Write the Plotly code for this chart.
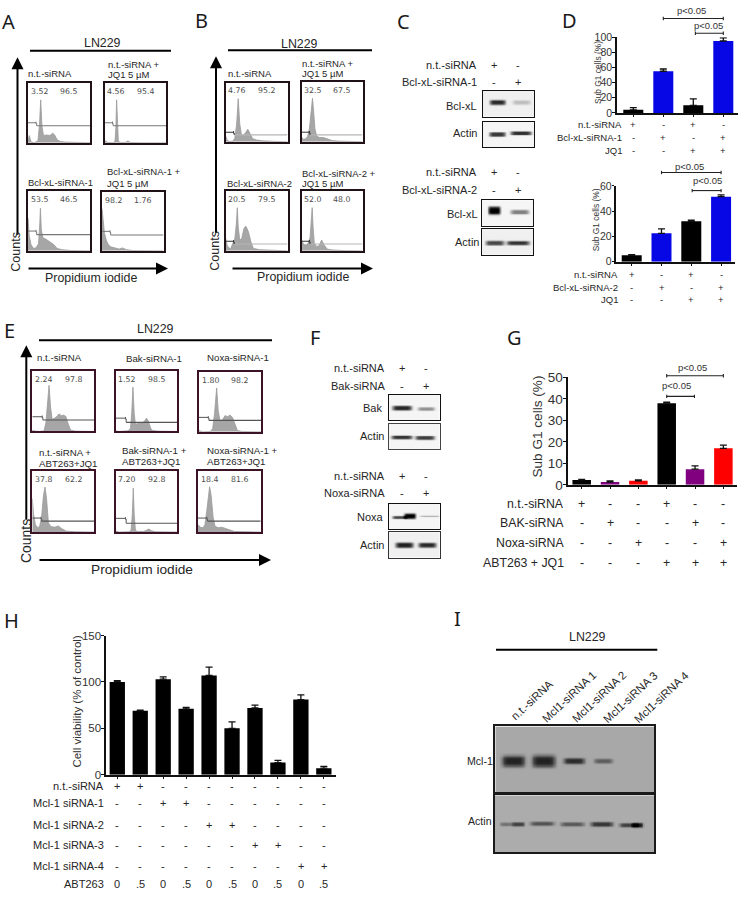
import numpy as np
import plotly.graph_objects as go

W, H = 738, 897
TXT = "#262626"
SANS = "Liberation Sans"

# ---------- flow histograms: x, counts (fractions of the panel) ----------
A1_x = [0,.02,.05,.1,.16,.185,.205,.225,.25,.3,.35,.4,.43,.47,.52,.6,.8,1]
A1_y = [.02,.12,.01,0,.03,.3,.72,.28,.12,.13,.12,.16,.13,.05,.02,.01,.005,0]
A2_x = [0,.02,.05,.14,.17,.185,.197,.21,.225,.26,.34,.38,.42,.6,1]
A2_y = [.01,.03,.005,0,.02,.25,.72,.25,.02,.005,.005,.03,.005,0,0]
A3_x = [0,.02,.05,.09,.13,.17,.19,.2,.215,.24,.28,.33,.38,.42,.47,.55,.7,1]
A3_y = [.55,.25,.1,.04,.05,.12,.45,.71,.35,.22,.2,.17,.13,.1,.04,.02,.005,0]
A4_x = [0,.02,.04,.07,.1,.14,.2,.28,.33,.4,.5,1]
A4_y = [.72,.5,.3,.18,.11,.07,.05,.03,.05,.02,.005,0]
B1_x = [0,.03,.07,.12,.15,.18,.205,.23,.26,.3,.36,.4,.44,.5,.6,.8,1]
B1_y = [.1,.02,.005,.01,.06,.3,.73,.3,.1,.12,.21,.14,.05,.03,.015,.005,0]
B2_x = [0,.03,.07,.1,.13,.155,.18,.2,.22,.25,.3,.36,.42,.5,.6,1]
B2_y = [.08,.04,.05,.09,.22,.45,.73,.5,.22,.09,.07,.07,.05,.02,.01,0]
B3_x = [0,.03,.08,.12,.15,.175,.19,.205,.23,.26,.3,.33,.37,.41,.45,.55,.7,.75,1]
B3_y = [.22,.08,.03,.12,.2,.45,.72,.4,.18,.2,.38,.41,.32,.15,.04,.02,.015,.02,0]
B4_x = [0,.04,.08,.11,.14,.16,.175,.19,.21,.25,.29,.33,.37,.42,.5,.7,1]
B4_y = [.18,.1,.1,.13,.22,.45,.72,.4,.13,.07,.09,.18,.1,.03,.015,.005,0]
E1_x = [0,.05,.12,.19,.22,.245,.27,.295,.32,.36,.4,.43,.47,.5,.54,.58,.62,.7,1]
E1_y = [.02,.005,0,.01,.15,.5,.76,.4,.2,.22,.25,.29,.26,.27,.25,.12,.02,.005,0]
E2_x = [0,.05,.2,.24,.26,.28,.3,.32,.36,.42,.46,.5,.53,.57,.6,.7,1]
E2_y = [.01,0,.01,.05,.3,.73,.3,.12,.13,.14,.16,.22,.17,.05,.015,.005,0]
E3_x = [0,.06,.18,.22,.25,.285,.31,.34,.38,.42,.46,.5,.54,.58,.62,.7,1]
E3_y = [.02,0,.005,.05,.3,.73,.35,.18,.2,.27,.25,.28,.24,.12,.02,.005,0]
E4_x = [0,.02,.05,.09,.12,.15,.18,.205,.23,.26,.3,.36,.42,.47,.55,.7,1]
E4_y = [.55,.3,.12,.07,.1,.25,.6,.74,.55,.15,.09,.08,.1,.06,.015,.005,0]
E5_x = [0,.05,.22,.25,.27,.285,.3,.32,.35,.45,.5,.54,.58,.65,1]
E5_y = [.02,0,.005,.03,.3,.72,.3,.03,.01,.01,.03,.05,.02,.005,0]
E6_x = [0,.04,.08,.11,.14,.17,.185,.21,.24,.27,.32,.38,.44,.5,.58,1]
E6_y = [.12,.08,.07,.12,.35,.68,.745,.6,.25,.1,.07,.08,.06,.03,.01,0]

# ---------- bar values ----------
D1_vals = [4, 55, 10, 95];  D1_err = [3, 3, 8.5, 4]
D2_vals = [5, 22.5, 32, 51.5];  D2_err = [0.5, 3.5, 1, 1.5]
G_vals = [2.3, 1.3, 1.9, 38, 7.3, 17];  G_err = [.3, .5, .4, .5, 1.5, 1.5]
H_vals = [100, 69, 103, 71, 107, 50, 72, 13, 81, 7]
H_err = [1.5, .5, 2.5, 1.5, 9, 7, 3, 2.5, 5, 2]

BLUE, PURPLE, RED = "#0707e6", "#800080", "#ff0000"
D_colors = ["#000000", BLUE, "#000000", BLUE]
G_colors = ["#000000", PURPLE, RED, "#000000", PURPLE, RED]

D1_rows = [("n.t.-siRNA", "+-+-"), ("Bcl-xL-siRNA-1", "-+-+"), ("JQ1", "--++")]
D2_rows = [("n.t.-siRNA", "+-+-"), ("Bcl-xL-siRNA-2", "-+-+"), ("JQ1", "--++")]
G_rows = [("n.t.-siRNA", "+--+--"), ("BAK-siRNA", "-+--+-"),
          ("Noxa-siRNA", "--+--+"), ("ABT263 + JQ1", "---+++")]
H_rows = [("n.t.-siRNA", "++--------"), ("Mcl-1 siRNA-1", "--++------"),
          ("Mcl-1 siRNA-2", "----++----"), ("Mcl-1 siRNA-3", "------++--"),
          ("Mcl-1 siRNA-4", "--------++")]
H_abt = ["0", ".5", "0", ".5", "0", ".5", "0", ".5", "0", ".5"]

# ---------- blot bands: lane start, lane end, band centre, half thickness, depth ----------
C1_bands = [(.13,.44,.45,.10,200), (.58,.93,.45,.09,50)]
C2_bands = [(.12,.44,.49,.09,190), (.54,.95,.44,.08,200)]
C3_bands = [(.12,.36,.40,.16,255), (.56,.92,.46,.09,120)]
C4_bands = [(.07,.43,.54,.09,170), (.48,.93,.54,.08,190)]
F1_bands = [(.07,.45,.51,.09,210), (.57,.90,.54,.07,100)]
F2_bands = [(.05,.46,.52,.08,195), (.52,.90,.54,.08,185)]
F3_bands = [(.07,.35,.53,.06,180), (.30,.53,.48,.11,250), (.61,1.0,.49,.035,70)]
F4_bands = [(.13,.48,.50,.11,210), (.58,.93,.50,.10,200)]
I1_bands = [(.04,.185,.52,.085,135), (.23,.375,.52,.09,135), (.43,.56,.52,.05,125), (.62,.737,.52,.04,75)]
I2_bands = [(.03,.10,.51,.03,60), (.10,.185,.51,.035,110), (.22,.37,.50,.035,90), (.41,.56,.51,.035,85),
            (.60,.74,.51,.04,120), (.78,.90,.525,.035,110), (.86,.93,.525,.04,140)]

# ---------- figure helpers ----------
fig = go.Figure()
layout = dict(width=W, height=H, margin=dict(l=0, r=0, t=0, b=0), autosize=False,
              paper_bgcolor="white", plot_bgcolor="white", showlegend=False,
              hovermode=False)
annos, shapes = [], []
axis_count = [0]


def px(x):
    return x / W


def py(y):
    return 1 - y / H


def axes(x0, y0, x1, y1, xa, ya):
    axis_count[0] += 1
    n = axis_count[0]
    layout[f"xaxis{n}"] = dict(domain=[px(x0), px(x1)], anchor=f"y{n}", **xa)
    layout[f"yaxis{n}"] = dict(domain=[py(y1), py(y0)], anchor=f"x{n}", **ya)
    return n


def text(x, y, s, size=9.5, anchor="left", color=TXT, angle=0, family=SANS, xref="paper"):
    annos.append(dict(x=px(x) if xref == "paper" else x, y=py(y), xref=xref, yref="paper",
                      text=s, showarrow=False, xanchor=anchor, yanchor="middle",
                      textangle=angle, font=dict(size=size, color=color, family=family),
                      borderpad=0, borderwidth=0))


def letter(x, y, s):
    text(x, y, s, size=20, anchor="center", color="#1a1a1a", family="Noto Sans")


def hline(x0, x1, y, w=2, c="#000000"):
    shapes.append(dict(type="line", xref="paper", yref="paper", x0=px(x0), x1=px(x1),
                       y0=py(y), y1=py(y), line=dict(color=c, width=w)))


def arrow(x0, y0, x1, y1):
    annos.append(dict(x=px(x1), y=py(y1), xref="paper", yref="paper", text="",
                      showarrow=True, ax=x0 - x1, ay=y0 - y1, axref="pixel", ayref="pixel",
                      arrowhead=2, arrowsize=1.2, arrowwidth=2, arrowcolor="#000000"))


def flow(box, xs, ys, n1, n2, gate, gate_color="#777777", long_color=None,
         edge="#21121a"):
    x0, y0, x1, y1 = box
    spec = dict(range=[0, 1], showticklabels=False, ticks="", showgrid=False, zeroline=False,
                showline=True, mirror=True, linecolor=edge, linewidth=1.9)
    n = axes(x0, y0, x1, y1, spec, spec)
    g, hi, lo = gate
    fig.add_trace(go.Scatter(x=xs, y=ys, mode="lines", fill="tozeroy", fillcolor="#a6a6a6",
                             line=dict(color="#9a9a9a", width=.8), hoverinfo="skip",
                             xaxis=f"x{n}", yaxis=f"y{n}"))
    fig.add_trace(go.Scatter(x=[g + .01, 1], y=[lo, lo], mode="lines",
                             line=dict(color=long_color or gate_color, width=1.1),
                             hoverinfo="skip", xaxis=f"x{n}", yaxis=f"y{n}"))
    fig.add_trace(go.Scatter(x=[0, g, None, g, g, None, g + .01, g + .01],
                             y=[hi, hi, None, hi + .02, hi - .02, None, hi - .01, lo],
                             mode="lines", line=dict(color=gate_color, width=1),
                             hoverinfo="skip", xaxis=f"x{n}", yaxis=f"y{n}"))
    for xv, s in ((.18, n1), (.66, n2)):
        annos.append(dict(x=xv, y=.86, xref=f"x{n}", yref=f"y{n}", text=s, showarrow=False,
                          xanchor="center", yanchor="middle",
                          font=dict(size=7.8, color="#4d4d4d", family="DejaVu Sans")))


GX = np.linspace(0, 1, 121)
GY = np.linspace(0, 1, 61)


def blot(box, bands, bg, edge="#111111", lw=1.3):
    x0, y0, x1, y1 = box
    xa = dict(range=[0, 1], showticklabels=False, ticks="", showgrid=False, zeroline=False,
              showline=True, mirror=True, linecolor=edge, linewidth=lw)
    ya = dict(xa, range=[1, 0])
    n = axes(x0, y0, x1, y1, xa, ya)
    X, Y = np.meshgrid(GX, GY)
    z = np.full(X.shape, float(bg))
    for a, b, c, t, d in bands:
        z -= d * np.exp(-(((X - (a + b) / 2) / ((b - a) / 2)) ** 6) - ((Y - c) / t) ** 4)
    z = np.clip(z, 0, 255)
    fig.add_trace(go.Heatmap(x=GX, y=GY, z=np.round(z).tolist(), zmin=0, zmax=255, zsmooth="best",
                             colorscale=[[0, "#000000"], [1, "#ffffff"]], showscale=False,
                             hoverinfo="skip", xaxis=f"x{n}", yaxis=f"y{n}"))


def bars(box, vals, errs, colors, xrange, yrange, yticks, bar_frac, tick_size):
    x0, y0, x1, y1 = box
    idx = list(range(len(vals)))
    n = axes(x0, y0, x1, y1,
             dict(range=xrange, tickvals=idx, showticklabels=False, ticks="outside", ticklen=2.5,
                  tickwidth=1.2, tickcolor="#111111", showgrid=False, zeroline=False,
                  showline=True, linecolor="#111111", linewidth=1.5),
             dict(range=yrange, tickvals=yticks, ticks="outside", ticklen=2.5, tickwidth=1.2,
                  tickcolor="#111111", showgrid=False, zeroline=False, showline=True,
                  linecolor="#111111", linewidth=1.5, ticklabelstandoff=-2,
                  tickfont=dict(size=tick_size, color="#333333", family=SANS)))
    fig.add_trace(go.Bar(x=idx, y=vals, width=bar_frac, marker=dict(color=colors, line=dict(width=0)),
                         error_y=dict(type="data", array=errs, arrayminus=[0] * len(errs),
                                      symmetric=False, color="#111111", thickness=1.3, width=3.5),
                         hoverinfo="skip", xaxis=f"x{n}", yaxis=f"y{n}", cliponaxis=False))
    return n


def sign_rows(n, rows, ys, label_x, size, sign_size=None):
    for (label, marks), y in zip(rows, ys):
        text(label_x, y, label, size=size, anchor="right")
        for i, m in enumerate(marks):
            text(i, y, m, size=sign_size or size, anchor="center", xref=f"x{n}")


def bracket(n, a, b, y, label, label_x, label_y, size=9.5):
    xr = f"x{n}"
    shapes.append(dict(type="line", xref=xr, yref="paper", x0=a, x1=b, y0=py(y), y1=py(y),
                       line=dict(color="#222222", width=1.1)))
    for v in (a, b):
        shapes.append(dict(type="line", xref=xr, yref="paper", x0=v, x1=v, y0=py(y - 1.7), y1=py(y + 1.7),
                           line=dict(color="#222222", width=1.1)))
    text(label_x, label_y, label, size=size, anchor="center", color="#333333")


def header(x0, x1, y, cx, ty, size=12.4):
    hline(x0, x1, y)
    text(cx, ty, "LN229", size=size, anchor="center")


# ---------- panel A ----------
letter(8, 15, "A")
header(30, 171, 44.5, 102, 37)
arrow(17.5, 230, 17.5, 51)
arrow(27, 266, 168, 266)
text(16, 249, "Counts", size=12.6, anchor="center", angle=-90)
text(91, 276, "Propidium iodide", size=12.4, anchor="center")
A_gate1 = (.13, .335, .285)
flow((28, 77.5, 90, 138), A1_x, A1_y, "3.52", "96.5", A_gate1)
flow((104.5, 77.5, 166, 138), A2_x, A2_y, "4.56", "95.4", A_gate1)
flow((28, 187, 90, 248), A3_x, A3_y, "53.5", "46.5", (.13, .33, .27))
flow((102, 188, 163.5, 248), A4_x, A4_y, "98.2", "1.76", (.13, .33, .27))
text(28, 68, "n.t.-siRNA")
text(108, 58, "n.t.-siRNA +")
text(108, 69, "JQ1 5 µM")
text(28, 178, "Bcl-xL-siRNA-1")
text(107, 167.5, "Bcl-xL-siRNA-1 +")
text(107, 179, "JQ1 5 µM")

# ---------- panel B ----------
letter(201, 14, "B")
header(228, 372, 44, 299, 38)
arrow(216, 228, 216, 50)
arrow(231, 266, 373, 266)
text(215, 248, "Counts", size=12.6, anchor="center", angle=-90)
text(303, 275, "Propidium iodide", size=12.4, anchor="center")
B_long = "#b5b5b5"
flow((225.5, 77, 287.5, 137), B1_x, B1_y, "4.76", "95.2", (.13, .16, .115), "#333333", B_long)
flow((301.5, 76.5, 362.5, 137), B2_x, B2_y, "32.5", "67.5", (.13, .16, .115), "#333333", B_long)
flow((225.5, 187, 287.5, 248), B3_x, B3_y, "20.5", "79.5", (.13, .16, .115), "#333333", B_long)
flow((301.5, 187, 362.5, 248), B4_x, B4_y, "52.0", "48.0", (.13, .16, .115), "#333333", B_long)
text(228, 68, "n.t.-siRNA")
text(302, 57, "n.t.-siRNA +")
text(302, 68, "JQ1 5 µM")
text(226.5, 179, "Bcl-xL-siRNA-2")
text(302, 169, "Bcl-xL-siRNA-2 +")
text(302, 180, "JQ1 5 µM")

# ---------- panel C ----------
letter(403, 15, "C")
for y, lab, marks in ((59, "n.t.-siRNA", "+-"), (76, "Bcl-xL-siRNA-1", "-+"),
                      (168, "n.t.-siRNA", "+-"), (186, "Bcl-xL-siRNA-2", "-+")):
    text(477, y, lab, size=11, anchor="right")
    text(494, y, marks[0], size=11, anchor="center")
    text(518, y, marks[1], size=11, anchor="center")
blot((483, 85, 534, 111.5), C1_bands, 240)
blot((483, 117, 534, 142.5), C2_bands, 245)
blot((482, 196.5, 533, 222.5), C3_bands, 245)
blot((482, 225.5, 533, 252), C4_bands, 240)
text(477, 100.5, "Bcl-xL", size=11, anchor="right")
text(477, 128.5, "Actin", size=11, anchor="right")
text(478, 211, "Bcl-xL", size=11, anchor="right")
text(479, 239, "Actin", size=11, anchor="right")

# ---------- panel D ----------
letter(569, 14, "D")
d1 = bars((616.5, 30.7, 738, 107.7), D1_vals, D1_err, D_colors, [-.56, 3.49], [0, 100],
          [0, 20, 40, 60, 80, 100], .667, 10.5)
sign_rows(d1, D1_rows, [119, 133, 145.7], 622, 9.5)
text(598, 67, "Sub G1 cells (%)", size=8.4, anchor="center", angle=-90, color="#333333")
bracket(d1, 1, 3, 11.7, "p&lt;0.05", 691, 4)
bracket(d1, 2.07, 3, 26.7, "p&lt;0.05", 708, 19)

d2 = bars((616, 182, 735, 259), D2_vals, D2_err, D_colors, [-.527, 3.467], [0, 60],
          [0, 20, 40, 60], .671, 10.5)
sign_rows(d2, D2_rows, [271.7, 285.7, 297.7], 618, 9.5)
text(596, 217, "Sub G1 cells (%)", size=8.4, anchor="center", angle=-90, color="#333333")
bracket(d2, 1, 3, 168.3, "p&lt;0.05", 689, 162)
bracket(d2, 2.03, 3, 186.7, "p&lt;0.05", 707, 176.7)

# ---------- panel E ----------
letter(9, 329, "E")
header(39, 272, 339, 155, 327, 12.4)
arrow(26.3, 520, 26.3, 344)
arrow(38, 562.3, 271, 562.3)
text(26, 543, "Counts", size=13.9, anchor="center", angle=-90)
text(142, 572, "Propidium iodide", size=13.7, anchor="center")
flow((32.3, 370, 94.3, 431.7), E1_x, E1_y, "2.24", "97.8", (.16, .243, .19), "#555555", edge="#3c1226")
flow((115.7, 370, 177.3, 431.7), E2_x, E2_y, "1.52", "98.5", (.16, .22, .15), "#555555", edge="#3c1226")
flow((199, 371, 261, 432), E3_x, E3_y, "1.80", "98.2", (.15, .24, .19), "#555555", edge="#3c1226")
flow((32.3, 472, 94.3, 534), E4_x, E4_y, "37.8", "62.2", (.14, .23, .18), "#555555", edge="#3c1226")
flow((115.7, 472, 177.3, 534), E5_x, E5_y, "7.20", "92.8", (.16, .225, .145), "#555555", edge="#3c1226")
flow((198, 472, 260.7, 534), E6_x, E6_y, "18.4", "81.6", (.14, .23, .18), "#555555", edge="#3c1226")
text(37, 356, "n.t.-siRNA", size=9.7)
text(126, 357, "Bak-siRNA-1", size=9.7)
text(207, 356, "Noxa-siRNA-1", size=9.7)
text(39, 452.7, "n.t.-siRNA +", size=9.7)
text(39, 464, "ABT263+JQ1", size=9.7)
text(122, 450.7, "Bak-siRNA-1 +", size=9.7)
text(122, 462, "ABT263+JQ1", size=9.7)
text(207, 450.7, "Noxa-siRNA-1 +", size=9.7)
text(207, 462, "ABT263+JQ1", size=9.7)

# ---------- panel F ----------
letter(315, 336, "F")
for y, lab, marks in ((367, "n.t.-siRNA", "+-"), (385, "Bak-siRNA", "-+"),
                      (476.7, "n.t.-siRNA", "+-"), (494.3, "Noxa-siRNA", "-+")):
    text(385, y, lab, size=11, anchor="right")
    text(402, y, marks[0], size=11, anchor="center")
    text(426, y, marks[1], size=11, anchor="center")
blot((388.7, 394.7, 439.7, 420.3), F1_bands, 245)
blot((388.7, 424, 439.7, 450), F2_bands, 245, edge="#444444")
blot((388.7, 505.3, 439.7, 531), F3_bands, 245)
blot((388.7, 534.3, 439.7, 560), F4_bands, 240, edge="#333333")
text(382, 408, "Bak", size=11, anchor="right")
text(384, 436, "Actin", size=11, anchor="right")
text(384, 519, "Noxa", size=11, anchor="right")
text(384, 547, "Actin", size=11, anchor="right")

# ---------- panel G ----------
letter(514, 336, "G")
g = bars((567.7, 376.7, 736.7, 486), G_vals, G_err, G_colors, [-.494, 5.47], [0, 50],
         [0, 10, 20, 30, 40, 50], .653, 13.5)
sign_rows(g, G_rows, [505, 525, 545, 565], 564, 12.3)
text(538, 426.7, "Sub G1 cells (%)", size=13.6, anchor="center", angle=-90, color="#333333")
bracket(g, 3, 5, 375, "p&lt;0.05", 692.7, 366.7)
bracket(g, 3, 3.98, 396, "p&lt;0.05", 676, 385)

# ---------- panel H ----------
letter(11, 624, "H")
h = bars((105.7, 639.3, 336, 780.7), H_vals, H_err, ["#000000"] * 10, [-.505, 9.53], [0, 150],
         [0, 50, 100, 150], .667, 11.5)
sign_rows(h, H_rows, [792.7, 810, 832.3, 852.7, 874], 104, 11, 11)
text(104, 892, "ABT263", size=11, anchor="right")
for i, lab in enumerate(H_abt):
    text(i, 892, lab, size=11, anchor="center", xref=f"x{h}")
text(76.7, 706.7, "Cell viability (% of control)", size=11.5, anchor="center", angle=-90, color="#333333")

# ---------- panel I ----------
letter(457, 622, "I")
header(496, 657.3, 653.7, 587.7, 640.7)
I_lanes = ["n.t.-siRNA", "Mcl1-siRNA 1", "Mcl1-siRNA 2", "Mcl1-siRNA 3", "Mcl1-siRNA 4"]
for cx, cy, lab in zip((532, 569, 599, 630.7, 661.7), (705, 702, 702, 702, 702), I_lanes):
    text(cx, cy, lab, size=11.4, anchor="center", angle=-43)
blot((495.3, 731.7, 654, 798.7), I1_bands, 168, edge="#1a1a1a", lw=1.6)
blot((495, 801.7, 654, 859.3), I2_bands, 172, edge="#1a1a1a", lw=1.6)
text(492.7, 767, "Mcl-1", size=10.6, anchor="right")
text(492, 828, "Actin", size=10.6, anchor="right")

layout["annotations"] = annos
layout["shapes"] = shapes
fig.update_layout(**layout)
fig.write_html("out.html", config=dict(displayModeBar=False, responsive=False),
               post_script="document.body.style.margin='0';document.body.style.overflow='hidden';")
